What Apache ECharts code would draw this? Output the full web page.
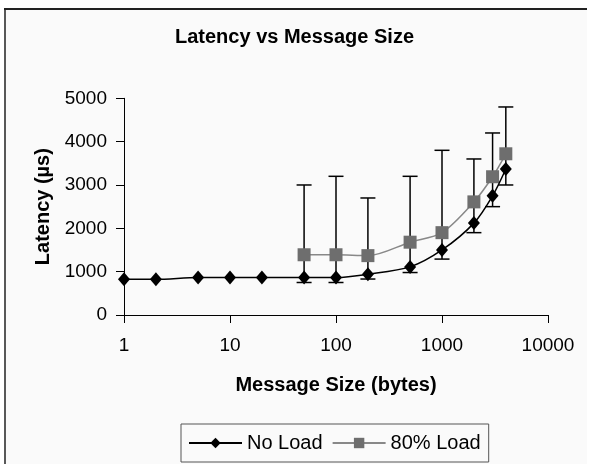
<!DOCTYPE html>
<html>
<head>
<meta charset="utf-8">
<script src="https://cdn.jsdelivr.net/npm/echarts@6/dist/echarts.min.js"></script>
<style>
html,body{margin:0;padding:0;background:#fff;}
#c{width:589px;height:464px;}
</style>
</head>
<body>
<div id="c"></div>
<script>
// ---- data ----
const sizes = [1, 2, 5, 10, 20, 50, 100, 200, 500, 1000, 2000, 3000, 4000];
const noLoad = [825, 825, 865, 865, 865, 865, 865, 940, 1110, 1500, 2120, 2750, 3370];
const load80Sizes = [50, 100, 200, 500, 1000, 2000, 3000, 4000];
const load80 = [1390, 1390, 1370, 1680, 1900, 2610, 3190, 3720];
const errLow = [750, 750, 830, 980, 1290, 1900, 2500, 3000];
const errHigh = [3000, 3200, 2700, 3200, 3800, 3600, 4200, 4800];
const xTicks = [1, 10, 100, 1000, 10000];
const yTicks = [0, 1000, 2000, 3000, 4000, 5000];
const seriesNames = ['No Load', '80% Load'];

const FONT = '"Liberation Sans", Arial, sans-serif';
const chart = echarts.init(document.getElementById('c'), null, {renderer: 'canvas'});

const noLoadData = sizes.map((s, i) => [s, noLoad[i]]);
const load80Data = load80Sizes.map((s, i) => [s, load80[i]]);
const errData = load80Sizes.map((s, i) => [s, errLow[i], errHigh[i]]);

chart.setOption({
  backgroundColor: '#ffffff',
  animation: false,
  graphic: [
    {type: 'rect', z: -10, shape: {x: 4, y: 8, width: 583, height: 470}, style: {fill: '#fafafa'}},
    {type: 'line', z: -9, shape: {x1: 4, y1: 9, x2: 587, y2: 9}, style: {stroke: '#222', lineWidth: 2}},
    {type: 'line', z: -9, shape: {x1: 5, y1: 8, x2: 5, y2: 470}, style: {stroke: '#222', lineWidth: 1.5}}
  ],
  title: {
    text: 'Latency vs Message Size',
    left: 'center',
    top: 27,
    padding: 0,
    textStyle: {fontFamily: FONT, fontSize: 20, fontWeight: 'bold', color: '#000'}
  },
  legend: {
    data: seriesNames,
    left: 181,
    top: 424,
    padding: [9, 8, 9, 7],
    itemWidth: 53,
    itemHeight: 13,
    itemGap: 9,
    borderColor: '#555',
    borderWidth: 1,
    backgroundColor: '#fafafa',
    textStyle: {fontFamily: FONT, fontSize: 20, color: '#000'}
  },
  grid: {left: 124, right: 41, top: 98.3, bottom: 149},
  xAxis: {
    type: 'log',
    logBase: 10,
    min: xTicks[0],
    max: xTicks[xTicks.length - 1],
    name: 'Message Size (bytes)',
    nameLocation: 'middle',
    nameGap: 60,
    nameTextStyle: {fontFamily: FONT, fontSize: 20, fontWeight: 'bold', color: '#000'},
    axisLine: {lineStyle: {color: '#000', width: 1}},
    axisTick: {show: true, inside: false, length: 8, lineStyle: {color: '#000'}},
    minorTick: {show: false},
    splitLine: {show: false},
    axisLabel: {
      margin: 21,
      fontFamily: FONT, fontSize: 19, color: '#000',
      formatter: v => String(Math.round(v))
    }
  },
  yAxis: {
    type: 'value',
    min: yTicks[0],
    max: yTicks[yTicks.length - 1],
    interval: 1000,
    name: 'Latency (µs)',
    nameLocation: 'middle',
    nameGap: 66,
    nameRotate: 90,
    nameTextStyle: {fontFamily: FONT, fontSize: 20, fontWeight: 'bold', color: '#000'},
    axisLine: {show: true, lineStyle: {color: '#000', width: 1}},
    axisTick: {show: true, inside: false, length: 8, lineStyle: {color: '#000'}},
    splitLine: {show: false},
    axisLabel: {
      margin: 17, fontFamily: FONT, fontSize: 19, color: '#000',
      formatter: v => String(Math.round(v))
    }
  },
  series: [
    {
      type: 'custom',
      name: 'err',
      z: 1,
      silent: true,
      encode: {x: 0, y: [1, 2]},
      data: errData,
      renderItem: function (params, api) {
        const x = api.value(0);
        const lo = api.coord([x, api.value(1)]);
        const hi = api.coord([x, api.value(2)]);
        const w = 7.5;
        const st = {stroke: '#000', lineWidth: 1.5};
        return {
          type: 'group',
          children: [
            {type: 'line', shape: {x1: lo[0], y1: lo[1], x2: hi[0], y2: hi[1]}, style: st},
            {type: 'line', shape: {x1: lo[0] - w, y1: lo[1], x2: lo[0] + w, y2: lo[1]}, style: st},
            {type: 'line', shape: {x1: hi[0] - w, y1: hi[1], x2: hi[0] + w, y2: hi[1]}, style: st}
          ]
        };
      }
    },
    {
      type: 'line',
      name: seriesNames[0],
      z: 4,
      data: noLoadData,
      smooth: 0.3,
      symbol: 'diamond',
      symbolSize: [12, 14],
      lineStyle: {color: '#000', width: 1.5},
      itemStyle: {color: '#000', borderWidth: 0}
    },
    {
      type: 'line',
      name: seriesNames[1],
      z: 3,
      data: load80Data,
      smooth: 0.3,
      symbol: 'rect',
      symbolSize: 13,
      lineStyle: {color: '#888', width: 1.5},
      itemStyle: {color: '#6e6e6e', borderColor: '#7a7a7a', borderWidth: 0}
    }
  ]
});
</script>
</body>
</html>
